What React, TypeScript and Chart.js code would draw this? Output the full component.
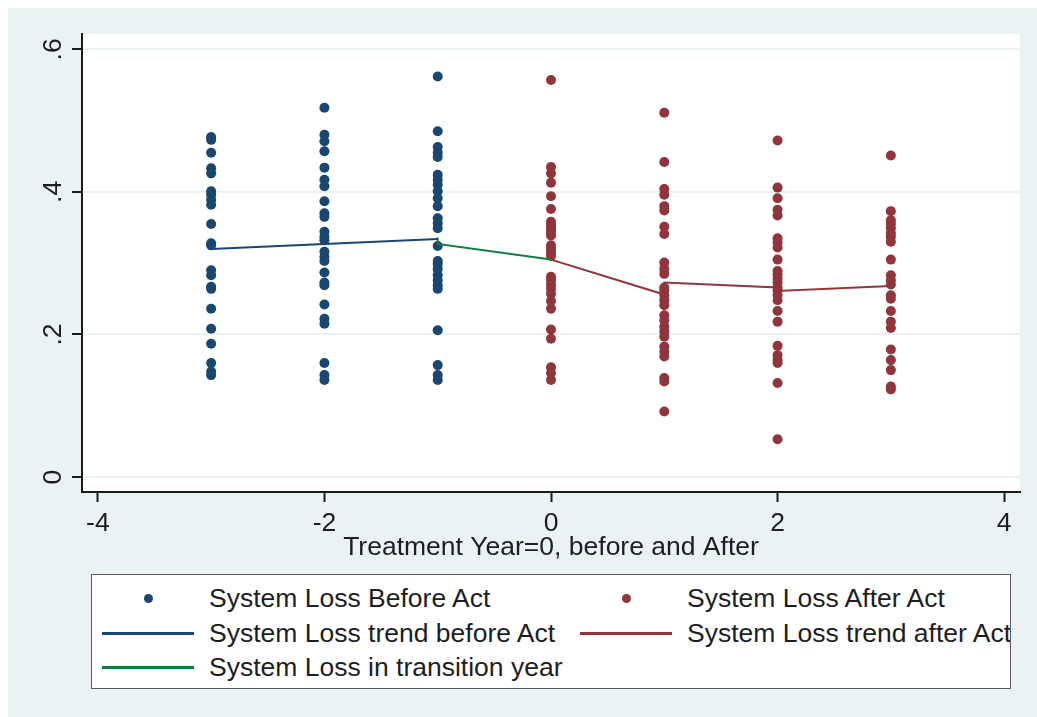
import React, { useEffect, useRef } from "react";
import { Chart, registerables } from "chart.js";

Chart.register(...registerables);

// ---- data ----
const xTickValues = [-4, -2, 0, 2, 4];
const yTickValues = [0, 0.2, 0.4, 0.6];
const yTickLabels = ["0", ".2", ".4", ".6"];
const xAxisTitle = "Treatment Year=0, before and After";

const lossYearM3 = [0.477, 0.473, 0.455, 0.433, 0.426, 0.401, 0.396, 0.389, 0.382, 0.355, 0.328, 0.325, 0.29, 0.283, 0.267, 0.264, 0.236, 0.208, 0.187, 0.16, 0.148, 0.143];
const lossYearM2 = [0.518, 0.48, 0.471, 0.457, 0.434, 0.417, 0.408, 0.387, 0.37, 0.365, 0.344, 0.337, 0.332, 0.316, 0.309, 0.303, 0.287, 0.273, 0.269, 0.242, 0.222, 0.215, 0.16, 0.143, 0.136];
const lossYearM1 = [0.562, 0.485, 0.463, 0.455, 0.449, 0.424, 0.417, 0.41, 0.401, 0.391, 0.38, 0.363, 0.356, 0.349, 0.324, 0.303, 0.299, 0.292, 0.283, 0.276, 0.269, 0.264, 0.206, 0.157, 0.143, 0.136];
const lossYear0 = [0.557, 0.435, 0.426, 0.413, 0.394, 0.376, 0.358, 0.353, 0.349, 0.344, 0.339, 0.325, 0.32, 0.315, 0.31, 0.281, 0.276, 0.27, 0.264, 0.257, 0.247, 0.236, 0.207, 0.194, 0.154, 0.146, 0.136];
const lossYear1 = [0.511, 0.442, 0.404, 0.396, 0.38, 0.374, 0.351, 0.341, 0.301, 0.292, 0.285, 0.266, 0.262, 0.255, 0.248, 0.241, 0.227, 0.22, 0.211, 0.204, 0.197, 0.183, 0.176, 0.169, 0.139, 0.134, 0.092];
const lossYear2 = [0.472, 0.406, 0.391, 0.375, 0.367, 0.335, 0.329, 0.322, 0.305, 0.289, 0.284, 0.278, 0.273, 0.266, 0.262, 0.255, 0.248, 0.233, 0.218, 0.184, 0.171, 0.164, 0.16, 0.132, 0.053];
const lossYear3 = [0.451, 0.373, 0.36, 0.355, 0.349, 0.342, 0.337, 0.33, 0.305, 0.283, 0.276, 0.27, 0.255, 0.25, 0.233, 0.218, 0.209, 0.179, 0.164, 0.15, 0.127, 0.123];

const trendBeforeX = [-3, -2, -1];
const trendBeforeY = [0.32, 0.327, 0.334];
const transitionX = [-1, -1, 0];
const transitionY = [0.336, 0.327, 0.305];
const trendAfterX = [0, 1, 1, 2, 2, 3];
const trendAfterY = [0.305, 0.256, 0.273, 0.266, 0.261, 0.268];

const labelBefore = "System Loss Before Act";
const labelAfter = "System Loss After Act";
const labelTrendBefore = "System Loss trend before Act";
const labelTrendAfter = "System Loss trend after Act";
const labelTransition = "System Loss in transition year";

// ---- styles ----
const NAVY = "#1a476f";
const MAROON = "#90353b";
const GREEN = "#0f7d3e";
const BG = "#eaf2f3";
const TEXT = "#1e1e1e";
const FONT = "'Liberation Sans', Arial, Helvetica, sans-serif";
const FONT_SIZE = 26.5;

const col = (x: number, ys: number[]) => ys.map((y) => ({ x, y }));
const line = (xs: number[], ys: number[]) => xs.map((x, i) => ({ x, y: ys[i] }));

const plotBg = {
  id: "plotBg",
  beforeDraw(chart: any) {
    const { ctx, chartArea } = chart;
    ctx.save();
    ctx.fillStyle = "#ffffff";
    ctx.fillRect(chartArea.left, chartArea.top, chartArea.right - chartArea.left, chartArea.bottom - chartArea.top);
    ctx.restore();
  },
};

export default function App() {
  const ref = useRef<HTMLCanvasElement | null>(null);

  useEffect(() => {
    if (!ref.current) return;
    Chart.defaults.font.family = FONT;
    const chart = new Chart(ref.current, {
      type: "scatter",
      data: {
        datasets: [
          {
            label: labelTrendBefore,
            data: line(trendBeforeX, trendBeforeY),
            showLine: true,
            borderColor: NAVY,
            borderWidth: 2,
            pointRadius: 0,
            order: 0,
          },
          {
            label: labelTransition,
            data: line(transitionX, transitionY),
            showLine: true,
            borderColor: GREEN,
            borderWidth: 2,
            pointRadius: 0,
            order: 0,
          },
          {
            label: labelTrendAfter,
            data: line(trendAfterX, trendAfterY),
            showLine: true,
            borderColor: MAROON,
            borderWidth: 2,
            pointRadius: 0,
            order: 0,
          },
          {
            label: labelBefore,
            data: [...col(-3, lossYearM3), ...col(-2, lossYearM2), ...col(-1, lossYearM1)],
            backgroundColor: NAVY,
            borderWidth: 0,
            pointRadius: 5,
            order: 1,
          },
          {
            label: labelAfter,
            data: [...col(0, lossYear0), ...col(1, lossYear1), ...col(2, lossYear2), ...col(3, lossYear3)],
            backgroundColor: MAROON,
            borderWidth: 0,
            pointRadius: 5,
            order: 1,
          },
        ] as any,
      },
      options: {
        animation: false,
        responsive: false,
        events: [],
        layout: { padding: { left: 0, top: 26, right: 17, bottom: 0 } },
        plugins: {
          legend: { display: false },
          tooltip: { enabled: false },
        },
        scales: {
          x: {
            type: "linear",
            min: -4.14,
            max: 4.14,
            afterBuildTicks: (s: any) => {
              s.ticks = xTickValues.map((v) => ({ value: v }));
            },
            afterFit: (s: any) => {
              s.height = 86;
            },
            ticks: {
              autoSkip: false,
              maxRotation: 0,
              padding: 5.3,
              color: TEXT,
              font: { size: FONT_SIZE, family: FONT },
              callback: (v: any) => String(v),
            },
            grid: {
              drawOnChartArea: false,
              drawTicks: true,
              tickLength: 10,
              tickColor: "#1a1a1a",
              tickWidth: 2,
            },
            border: { display: true, color: "#1a1a1a", width: 2 },
            title: {
              display: true,
              text: xAxisTitle,
              color: TEXT,
              font: { size: FONT_SIZE, family: FONT },
              padding: { top: 0, bottom: 14.1 },
            },
          },
          y: {
            type: "linear",
            min: -0.021,
            max: 0.6215,
            afterBuildTicks: (s: any) => {
              s.ticks = yTickValues.map((v) => ({ value: v }));
            },
            afterFit: (s: any) => {
              s.width = 74;
            },
            ticks: {
              autoSkip: false,
              minRotation: 90,
              maxRotation: 90,
              crossAlign: "center",
              padding: 7.5,
              color: TEXT,
              font: { size: FONT_SIZE, family: FONT },
              callback: (v: any) => {
                const i = yTickValues.findIndex((t) => Math.abs(t - Number(v)) < 1e-9);
                return i >= 0 ? yTickLabels[i] : "";
              },
            },
            grid: {
              color: BG,
              lineWidth: 2,
              drawTicks: true,
              tickLength: 10,
              tickColor: "#1a1a1a",
              tickWidth: 2,
            },
            border: { display: true, color: "#1a1a1a", width: 2 },
          },
        },
      } as any,
      plugins: [plotBg],
    });
    return () => chart.destroy();
  }, []);

  const textStyle: React.CSSProperties = {
    position: "absolute",
    height: 30,
    lineHeight: "30px",
    fontSize: FONT_SIZE,
    fontFamily: FONT,
    color: TEXT,
    whiteSpace: "nowrap",
  };
  const rowTops = [8.3, 43.3, 77.3];
  const lineSym = (left: number, top: number, color: string) => (
    <div style={{ position: "absolute", left, top: top + 14, width: 92, height: 2.5, background: color }} />
  );
  const dotSym = (cx: number, top: number, color: string) => (
    <div
      style={{
        position: "absolute",
        left: cx - 4.5,
        top: top + 15 - 4.5,
        width: 9,
        height: 9,
        borderRadius: "50%",
        background: color,
      }}
    />
  );

  return (
    <div
      style={{
        position: "fixed",
        left: 8,
        top: 8,
        width: 1029,
        height: 709,
        background: BG,
        overflow: "hidden",
      }}
    >
      <canvas ref={ref} width={1029} height={570} style={{ position: "absolute", left: 0, top: 0, display: "block" }} />
      <div
        style={{
          position: "absolute",
          left: 83,
          top: 566,
          width: 918,
          height: 113,
          border: "1px solid #5a5a5a",
          background: "#ffffff",
          overflow: "hidden",
        }}
      >
        {dotSym(56, rowTops[0], NAVY)}
        <div style={{ ...textStyle, left: 117, top: rowTops[0] }}>{labelBefore}</div>
        {dotSym(534, rowTops[0], MAROON)}
        <div style={{ ...textStyle, left: 595, top: rowTops[0] }}>{labelAfter}</div>
        {lineSym(10, rowTops[1], NAVY)}
        <div style={{ ...textStyle, left: 117, top: rowTops[1] }}>{labelTrendBefore}</div>
        {lineSym(488, rowTops[1], MAROON)}
        <div style={{ ...textStyle, left: 595, top: rowTops[1] }}>{labelTrendAfter}</div>
        {lineSym(10, rowTops[2], GREEN)}
        <div style={{ ...textStyle, left: 117, top: rowTops[2] }}>{labelTransition}</div>
      </div>
    </div>
  );
}
